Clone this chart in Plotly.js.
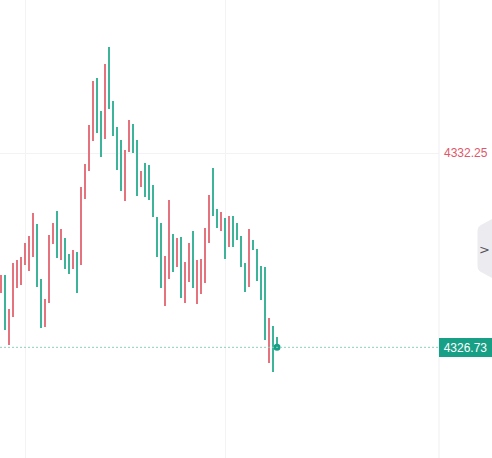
<!DOCTYPE html>
<html>
<head>
<meta charset="utf-8">
<script src="https://cdn.plot.ly/plotly-3.0.1.min.js"></script>
<style>
  html, body { margin: 0; padding: 0; background: #ffffff; }
  #chart { width: 492px; height: 458px; }
</style>
</head>
<body>
<div id="chart"></div>
<script>
// ---- data ----
const highs = [
  4328.78, 4328.78, 4327.82, 4329.13, 4329.21, 4329.30, 4329.69, 4329.89, 4330.55, 4330.23,
  4328.67, 4328.10, 4329.92, 4330.26, 4330.60, 4330.09, 4329.84, 4329.38, 4329.49, 4329.44,
  4331.28, 4331.94, 4333.05, 4334.30, 4334.38, 4333.44, 4334.78, 4335.26, 4333.73, 4332.99,
  4332.62, 4332.34, 4333.19, 4333.07, 4332.62, 4331.74, 4331.97, 4331.91, 4331.34, 4330.43,
  4330.26, 4329.32, 4330.91, 4329.95, 4329.84, 4329.86, 4329.15, 4329.69, 4330.03, 4329.21,
  4329.24, 4330.12, 4331.06, 4331.82, 4330.66, 4330.57, 4330.40, 4330.46, 4330.46, 4330.26,
  4329.89, 4329.13, 4330.09, 4329.78, 4329.52, 4329.04, 4329.01, 4327.56, 4327.34, 4327.02
];
const lows = [
  4328.27, 4327.22, 4326.80, 4327.59, 4328.41, 4328.50, 4329.07, 4328.90, 4329.30, 4328.44,
  4327.28, 4327.31, 4327.99, 4329.66, 4329.27, 4329.21, 4328.95, 4328.81, 4328.95, 4328.27,
  4329.07, 4330.94, 4331.74, 4332.59, 4332.82, 4332.14, 4332.65, 4333.50, 4332.73, 4331.77,
  4331.17, 4330.89, 4332.28, 4332.25, 4331.03, 4331.28, 4331.00, 4330.91, 4330.43, 4329.30,
  4328.41, 4327.90, 4328.67, 4328.87, 4329.01, 4328.13, 4327.99, 4328.59, 4328.41, 4327.96,
  4328.24, 4328.56, 4329.69, 4330.46, 4330.12, 4330.03, 4329.24, 4329.58, 4329.58, 4329.78,
  4329.01, 4328.30, 4328.44, 4329.49, 4328.61, 4328.07, 4326.94, 4326.28, 4326.03, 4326.72
];
// 1 = up (red), -1 = down (teal)
const direction = [
   1,-1, 1, 1, 1, 1, 1, 1, 1,-1,
  -1, 1, 1, 1,-1, 1,-1,-1, 1,-1,
   1, 1, 1, 1,-1,-1, 1,-1,-1,-1,
  -1, 1, 1,-1,-1, 1,-1,-1,-1,-1,
  -1, 1, 1,-1, 1,-1, 1, 1,-1, 1,
   1, 1, 1,-1,-1, 1,-1, 1,-1,-1,
  -1,-1, 1,-1,-1,-1,-1, 1,-1,-1
];
const lastPrice = 4326.73;
const markedPrice = 4332.25;
const timeGridIdx = [6, 56];

// ---- styles ----
const UP = '#e5737d';
const DOWN = '#3db49a';
const LABEL_TEAL = '#17a086';

const idx = highs.map((_, i) => i);
const W = 492, H = 458, R = 53, PW = W - R;
const px = x => x / PW;            // pixel -> paper x
const py = y => (H - y) / H;       // pixel -> paper y

const traces = [
  {
    type: 'bar',
    x: idx,
    base: lows,
    y: highs.map((h, i) => h - lows[i]),
    width: 0.5,
    marker: { color: direction.map(d => d > 0 ? UP : DOWN), line: { width: 0 } },
    hoverinfo: 'skip',
    showlegend: false
  },
  {
    type: 'scatter',
    mode: 'markers',
    x: [idx[idx.length - 1]],
    y: [lastPrice],
    marker: { color: LABEL_TEAL, size: 7 },
    hoverinfo: 'skip',
    showlegend: false,
    cliponaxis: false
  }
];

const chevronPath =
  'M ' + px(492) + ',' + py(219) +
  ' L ' + px(481) + ',' + py(225) +
  ' Q ' + px(477.5) + ',' + py(227) + ' ' + px(477.5) + ',' + py(231) +
  ' L ' + px(477.5) + ',' + py(266) +
  ' Q ' + px(477.5) + ',' + py(270) + ' ' + px(481) + ',' + py(272) +
  ' L ' + px(492) + ',' + py(278) + ' Z';

const layout = {
  width: W, height: H,
  margin: { l: 0, r: R, t: 0, b: 0, pad: 0 },
  paper_bgcolor: '#ffffff',
  plot_bgcolor: '#ffffff',
  bargap: 0,
  xaxis: {
    range: [-0.25, 109.5],
    tickvals: timeGridIdx,
    showticklabels: false,
    showgrid: true,
    gridcolor: '#f3f3f5',
    gridwidth: 1,
    zeroline: false,
    showline: false,
    ticks: '',
    fixedrange: true
  },
  yaxis: {
    range: [4323.585, 4336.60],
    side: 'right',
    tickvals: [markedPrice],
    showticklabels: false,
    showgrid: true,
    gridcolor: '#f3f3f5',
    gridwidth: 1,
    zeroline: false,
    showline: false,
    ticks: '',
    fixedrange: true
  },
  shapes: [
    { type: 'line', xref: 'paper', yref: 'paper', x0: 1, x1: 1, y0: 0, y1: 1,
      line: { color: '#efeff2', width: 1 } },
    { type: 'line', xref: 'paper', yref: 'y', x0: 0, x1: 1, y0: lastPrice, y1: lastPrice,
      line: { color: '#8ccfbf', width: 1, dash: '2px,2px' } },
    { type: 'path', xref: 'paper', yref: 'paper', path: chevronPath,
      fillcolor: '#ececf0', line: { width: 0 } }
  ],
  annotations: [
    { xref: 'paper', yref: 'y', x: 1, y: markedPrice, xanchor: 'left', yanchor: 'middle',
      xshift: 3, text: '4332.25', showarrow: false,
      font: { family: 'Liberation Sans, Arial, sans-serif', size: 12, color: '#e0566a' } },
    { xref: 'paper', yref: 'y', x: 1, y: lastPrice, xanchor: 'left', yanchor: 'middle',
      text: '4326.73', showarrow: false, width: 53, height: 19, align: 'center',
      bgcolor: LABEL_TEAL, borderpad: 0, borderwidth: 0,
      font: { family: 'Liberation Sans, Arial, sans-serif', size: 12, color: '#ffffff' } },
    { xref: 'paper', yref: 'paper', x: px(485), y: py(249), xanchor: 'center', yanchor: 'middle',
      text: '>', showarrow: false,
      font: { family: 'DejaVu Sans, sans-serif', size: 13, color: '#55555a' } }
  ]
};

Plotly.newPlot('chart', traces, layout, { displayModeBar: false, staticPlot: true });
</script>
</body>
</html>
